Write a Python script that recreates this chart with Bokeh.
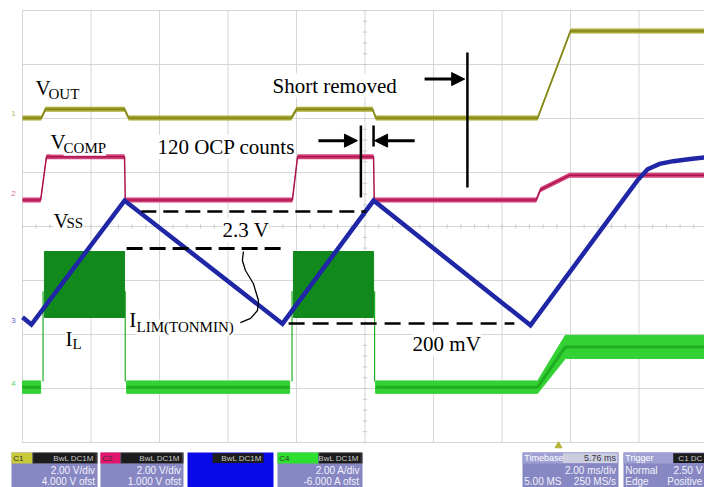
import numpy as np
from bokeh.plotting import figure
from bokeh.models import Label, Arrow, NormalHead
from bokeh.embed import file_html
from bokeh.resources import INLINE
from bokeh.core.properties import value

# ---------------- data: time in ms (2 ms/div), amplitude in screen divisions ----------------
vout_t = [0.0, 0.55, 0.67, 2.98, 3.10, 7.85, 8.00, 10.22, 10.32, 15.04, 16.00, 19.95]
vout_v = [2.01, 2.01, 2.17, 2.17, 2.01, 2.01, 2.17, 2.17, 2.01, 2.01, 3.62, 3.62]

vcomp_t = [0.0, 0.53, 0.70, 2.98, 3.00, 7.88, 8.03, 10.25, 10.27, 15.00, 15.12, 15.97, 19.95]
vcomp_v = [0.49, 0.49, 1.29, 1.29, 0.49, 0.49, 1.29, 1.29, 0.49, 0.49, 0.68, 0.95, 0.95]

vss_t = [0.0, 0.26, 2.98, 7.59, 10.25, 14.83, 17.95, 18.25, 18.60, 19.00, 19.50, 19.95]
vss_v = [-1.68, -1.815, 0.48, -1.80, 0.48, -1.83, 0.85, 1.06, 1.16, 1.21, 1.25, 1.28]

il_seg_t = [[0.00, 0.53], [3.04, 7.80], [10.31, 15.04, 15.85, 19.95]]
il_seg_v = [[-2.975, -2.975], [-2.975, -2.975], [-2.975, -2.975, -2.23, -2.23]]
il_seg_h = [[0.115, 0.115], [0.115, 0.115], [0.115, 0.115, 0.215, 0.215]]
il_blk_t0 = [0.64, 7.91]
il_blk_t1 = [2.98, 10.25]
il_blk_top = [-0.463, -0.463]
il_blk_bot = [-1.685, -1.685]
il_edge_t = [0.60, 3.00, 7.87, 10.28]

grid_t = list(range(0, 21, 2))
grid_v = list(range(-4, 5))

# scope info panels
panel_x0 = [-0.321, 2.277, 4.818, 7.445, 14.599, 17.547]
panel_x1 = [2.190, 4.701, 7.328, 9.927, 17.401, 20.3]
panel_fill = ["#8787c3", "#8787c3", "#0a0ae8", "#8787c3", "#8787c3", "#8787c3"]
panel_line1 = ["2.00 V/div", "2.00 V/div", "", "2.00 A/div", "2.00 ms/div", "2.50 V"]
panel_line2 = ["4.000 V ofst", "1.000 V ofst", "", "-6.000 A ofst", "250 MS/s", "Positive"]
tag_x0 = [-0.321, 2.277, 7.445]
tag_x1 = [0.292, 2.861, 8.642]
tag_fill = ["#c9c93c", "#e3146c", "#2ee02e"]
tag_text = ["C1", "C2", "C4"]
dark_x0 = [0.321, 2.891, 5.547, 8.672, 19.0]
dark_x1 = [2.131, 4.642, 7.036, 9.869, 20.3]
dark_text = ["BwL DC1M", "BwL DC1M", "BwL DC1M", "BwL DC1M", "C1 DC"]

OLIVE_BAND, OLIVE_LINE = "#a9a936", "#84841c"
MAG_BAND, MAG_LINE = "#d2407a", "#ad1450"
BLUE = "#1f27a6"
GREEN_DARK, GREEN_BRIGHT, GREEN_MID = "#11891c", "#33d133", "#1fae22"

p = figure(width=704, height=487, x_range=(-0.642, 19.912), y_range=(-4.833, 4.185),
           output_backend="svg", toolbar_location=None,
           x_axis_type=None, y_axis_type=None,
           min_border_left=0, min_border_right=0, min_border_top=0, min_border_bottom=0)
p.outline_line_color = None
p.background_fill_color = "white"
p.border_fill_color = "white"

# grid
p.segment(x0=grid_t, y0=[-4] * len(grid_t), x1=grid_t, y1=[4] * len(grid_t),
          line_color="#d6d6d6", line_width=1)
p.segment(x0=[0] * len(grid_v), y0=grid_v, x1=[20] * len(grid_v), y1=grid_v,
          line_color="#d6d6d6", line_width=1)
mt_v = np.arange(-4, 4.01, 0.2)
p.segment(x0=[9.94] * len(mt_v), y0=mt_v, x1=[10.06] * len(mt_v), y1=mt_v,
          line_color="#c8c8c8", line_width=1)
mt_t = np.arange(0, 20.01, 0.4)
p.segment(x0=mt_t, y0=[-0.037] * len(mt_t), x1=mt_t, y1=[0.037] * len(mt_t),
          line_color="#c8c8c8", line_width=1)

# channel markers at left
for lbl, yv, col in [("1", 2.09, "#b8b860"), ("2", 0.61, "#d86a96"),
                     ("3", -1.74, "#5a5ad0"), ("4", -2.91, "#5ad85a")]:
    p.text(x=[-0.33], y=[yv], text=[lbl], text_font=value("Liberation Sans"),
           text_font_size="8px", text_color=col, text_baseline="middle")

# IL
xs, ys = [], []
for tt, vv, hh in zip(il_seg_t, il_seg_v, il_seg_h):
    tt, vv, hh = np.array(tt), np.array(vv), np.array(hh)
    xs.append(list(tt) + list(tt[::-1]))
    ys.append(list(vv + hh) + list((vv - hh)[::-1]))
p.patches(xs=xs, ys=ys, fill_color=GREEN_BRIGHT, line_color=GREEN_BRIGHT, line_width=1)
for tt, vv in zip(il_seg_t, il_seg_v):
    p.line(tt, vv, line_color=GREEN_MID, line_width=3)
p.segment(x0=il_edge_t, y0=[-2.87] * 4, x1=il_edge_t, y1=[-1.2] * 4,
          line_color=GREEN_MID, line_width=1.2)
p.quad(left=il_blk_t0, right=il_blk_t1, top=il_blk_top, bottom=il_blk_bot,
       fill_color=GREEN_DARK, line_color=GREEN_DARK)

# VOUT
vo = np.array(vout_v)
p.varea(x=vout_t, y1=vo - 0.046, y2=vo + 0.046, fill_color=OLIVE_BAND)
p.line(vout_t, vout_v, line_color=OLIVE_LINE, line_width=1.5)

# VCOMP
vc = np.array(vcomp_v)
p.varea(x=vcomp_t, y1=vc - 0.046, y2=vc + 0.046, fill_color=MAG_BAND)
p.line(vcomp_t, vcomp_v, line_color=MAG_LINE, line_width=1.5)

# VSS
p.line(vss_t, vss_v, line_color=BLUE, line_width=4.5, line_join="miter")

# ---------------- annotations ----------------
def lab(x, y, text, size="21px", font="Liberation Serif", color="black",
        align="left", baseline="alphabetic", bg="white"):
    p.add_layout(Label(x=x, y=y, text=text, text_font=font, text_font_size=size,
                       text_color=color, text_align=align, text_baseline=baseline,
                       background_fill_color=bg))

lab(0.38, 2.57, "V"); lab(0.76, 2.46, "OUT", "15px")
lab(0.82, 1.556, "V"); lab(1.20, 1.46, "COMP", "15px")
lab(0.905, 0.111, "V"); lab(1.285, 0.056, "SS", "15px")
lab(1.255, -2.09, "I"); lab(1.46, -2.17, "L", "15px")
lab(3.12, -1.74, "I"); lab(3.33, -1.87, "LIM(TONMIN)", "15px")
lab(7.30, 2.61, "Short removed")
lab(3.94, 1.47, "120 OCP counts")
lab(5.84, -0.074, "2.3 V")
lab(11.39, -2.17, "200 mV")

for xs0, xs1, yy in [(11.74, 12.91, 2.73), (8.64, 9.78, 1.59), (11.45, 10.28, 1.59)]:
    p.add_layout(Arrow(end=NormalHead(size=13, fill_color="black", line_color="black", line_width=1),
                       x_start=xs0, y_start=yy, x_end=xs1, y_end=yy,
                       line_color="black", line_width=3))

p.segment(x0=[12.99, 9.88, 10.25], y0=[3.22, 1.87, 1.87],
          x1=[12.99, 9.88, 10.25], y1=[0.72, 0.537, 1.48],
          line_color="black", line_width=2.5)

p.line([3.47, 10.04], [0.278, 0.278], line_color="black", line_width=2.5, line_dash="15 7")
p.line([3.04, 7.74], [-0.407, -0.407], line_color="black", line_width=3, line_dash="16 7")
p.line([7.77, 14.36], [-1.796, -1.796], line_color="black", line_width=2.5, line_dash="16 8")

curve_t = [6.45, 6.42, 6.51, 6.74, 6.89, 6.86, 6.66, 6.36]
curve_v = [-0.463, -0.63, -0.815, -1.056, -1.37, -1.556, -1.70, -1.78]
p.line(curve_t, curve_v, line_color="black", line_width=1.3)

# trigger marker
p.scatter(x=[15.65], y=[-4.06], marker="triangle", size=7, color="#b5b53a")

# ---------------- info panels ----------------
n = len(panel_x0)
p.quad(left=panel_x0, right=panel_x1, top=[-4.185] * n, bottom=[-5.0] * n,
       fill_color=panel_fill, line_color=None)
p.quad(left=[14.599, 17.547], right=[17.401, 19.0], top=[-4.185] * 2, bottom=[-4.39] * 2,
       fill_color="#a0a0d4", line_color=None)
p.quad(left=[15.78], right=[17.37], top=[-4.20], bottom=[-4.38],
       fill_color="#cdcde0", line_color=None)
p.quad(left=tag_x0, right=tag_x1, top=[-4.185] * 3, bottom=[-4.39] * 3,
       fill_color=tag_fill, line_color=None)
p.quad(left=[0.292, 2.861, 8.642], right=[2.19, 4.701, 9.927], top=[-4.185] * 3,
       bottom=[-4.39] * 3, fill_color="#3a3a3a", line_color=None)
p.quad(left=dark_x0, right=dark_x1, top=[-4.20] * 5, bottom=[-4.38] * 5,
       fill_color="#1c1c1c", line_color=None)

f = value("Liberation Sans")
p.text(x=[t0 + 0.05 for t0 in tag_x0], y=[-4.287] * 3, text=tag_text, text_font=f,
       text_font_size="8px", text_color="#333333", text_baseline="middle")
p.text(x=[t1 - 0.05 for t1 in dark_x1[:4]] + [19.85], y=[-4.287] * 5, text=dark_text, text_font=f,
       text_font_size="8px", text_color="#c8c8c8", text_baseline="middle", text_align="right")
p.text(x=[14.65, 17.6], y=[-4.287] * 2, text=["Timebase", "Trigger"], text_font=f,
       text_font_size="9px", text_color="white", text_baseline="middle")
p.text(x=[17.33], y=[-4.287], text=["5.76 ms"], text_font=f,
       text_font_size="9px", text_color="#333344", text_baseline="middle", text_align="right")
p.text(x=[x1 - 0.07 for x1 in panel_x1[:5]] + [19.85], y=[-4.52] * 6, text=panel_line1,
       text_font=f, text_font_size="10px", text_color="#f2f2fa",
       text_baseline="middle", text_align="right")
p.text(x=[x1 - 0.07 for x1 in panel_x1[:5]] + [19.85], y=[-4.72] * 6, text=panel_line2,
       text_font=f, text_font_size="10px", text_color="#f2f2fa",
       text_baseline="middle", text_align="right")
p.text(x=[14.65, 17.6, 17.6], y=[-4.72, -4.52, -4.72], text=["5.00 MS", "Normal", "Edge"],
       text_font=f, text_font_size="10px", text_color="#f2f2fa", text_baseline="middle")

open("out.html", "w").write(file_html(p, INLINE))
